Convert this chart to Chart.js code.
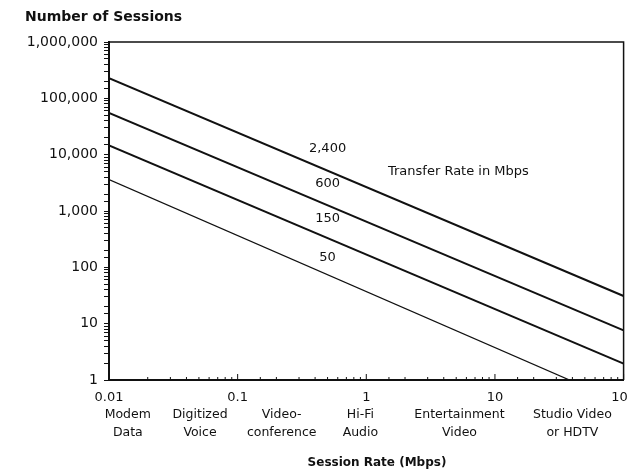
<!DOCTYPE html>
<html>
<head>
<meta charset="utf-8">
<script src="https://cdn.jsdelivr.net/npm/chart.js@4.4.1/dist/chart.umd.min.js"></script>
<style>
html, body { margin: 0; padding: 0; background: #fff; overflow: hidden; }
#wrap { width: 646px; height: 470px; position: relative; }
</style>
</head>
<body>
<div id="wrap"><canvas id="c"></canvas></div>
<script>
// lines of constant transfer rate: sessions = transfer rate / session rate
const sessionRates = [0.01, 100];
const sessions2400 = [229000, 31];
const sessions600 = [55000, 7.6];
const sessions150 = [14600, 1.95];
const rates50 = [0.01, 38];
const sessions50 = [3600, 1];

// applications under the x axis
const appNames = [['Modem', 'Data'], ['Digitized', 'Voice'], ['Video-', 'conference'], ['Hi-Fi', 'Audio'], ['Entertainment', 'Video'], ['Studio Video', 'or HDTV']];
const appRates = [0.014, 0.051, 0.22, 0.9, 5.3, 40];

// labels sitting next to the lines
const lineLabels = ['2,400', '600', '150', '50'];
const lineLabelRates = [0.5, 0.5, 0.5, 0.5];
const lineLabelSessions = [12900, 3100, 740, 150];

const xTickValues = [0.01, 0.1, 1, 10, 100];
const xTickLabels = ['0.01', '0.1', '1', '10', '100'];
const yTickValues = [1, 10, 100, 1000, 10000, 100000, 1000000];
const yTickLabels = ['1', '10', '100', '1,000', '10,000', '100,000', '1,000,000'];

const INK = '#111';
const FONT = '"DejaVu Sans", sans-serif';

function pts(xs, ys) {
    return xs.map((x, i) => ({ x: x, y: ys[i] }));
}
function isDecade(v) {
    const l = Math.log10(v);
    return Math.abs(l - Math.round(l)) < 1e-6;
}
function findLabel(values, labels, v) {
    for (let i = 0; i < values.length; i++) {
        if (Math.abs(values[i] - v) / values[i] < 1e-6) return labels[i];
    }
    return '';
}

const extras = {
    id: 'extras',
    afterDraw(chart) {
        const ctx = chart.ctx;
        const a = chart.chartArea;
        const xs = chart.scales.x;
        const ys = chart.scales.y;
        ctx.save();
        ctx.strokeStyle = INK;

        // top and right frame
        ctx.lineWidth = 1.5;
        ctx.beginPath();
        ctx.moveTo(a.left, a.top);
        ctx.lineTo(a.right, a.top);
        ctx.lineTo(a.right, a.bottom);
        ctx.stroke();

        // inward ticks on x axis
        ctx.lineWidth = 1;
        xs.ticks.forEach(t => {
            const px = xs.getPixelForValue(t.value);
            const len = isDecade(t.value) ? 6 : 3;
            ctx.beginPath();
            ctx.moveTo(px, a.bottom);
            ctx.lineTo(px, a.bottom - len);
            ctx.stroke();
        });

        ctx.fillStyle = INK;
        ctx.textAlign = 'center';
        ctx.textBaseline = 'middle';

        // line labels
        ctx.font = '13px ' + FONT;
        lineLabels.forEach((txt, i) => {
            ctx.fillText(txt, xs.getPixelForValue(lineLabelRates[i]), ys.getPixelForValue(lineLabelSessions[i]));
        });
        ctx.fillText('Transfer Rate in Mbps', xs.getPixelForValue(5.2), ys.getPixelForValue(5000));

        // application names
        ctx.font = '12.5px ' + FONT;
        appNames.forEach((lines, i) => {
            const px = xs.getPixelForValue(appRates[i]);
            lines.forEach((ln, j) => ctx.fillText(ln, px, a.bottom + 35 + j * 18));
        });

        // titles
        ctx.font = 'bold 14px ' + FONT;
        ctx.textAlign = 'left';
        ctx.fillText('Number of Sessions', 25, 17);
        ctx.font = 'bold 12px ' + FONT;
        ctx.textAlign = 'center';
        ctx.fillText('Session Rate (Mbps)', 377, 463);
        ctx.restore();
    }
};

const lineStyle = { borderColor: INK, pointRadius: 0, showLine: true, fill: false, tension: 0 };

new Chart(document.getElementById('c'), {
    type: 'scatter',
    data: {
        datasets: [
            Object.assign({ label: '2,400', data: pts(sessionRates, sessions2400), borderWidth: 2 }, lineStyle),
            Object.assign({ label: '600', data: pts(sessionRates, sessions600), borderWidth: 2 }, lineStyle),
            Object.assign({ label: '150', data: pts(sessionRates, sessions150), borderWidth: 2 }, lineStyle),
            Object.assign({ label: '50', data: pts(rates50, sessions50), borderWidth: 1.3 }, lineStyle)
        ]
    },
    options: {
        responsive: true,
        maintainAspectRatio: false,
        animation: false,
        layout: { padding: { top: 42, right: 0, left: 0, bottom: 0 } },
        plugins: { legend: { display: false }, tooltip: { enabled: false } },
        scales: {
            x: {
                type: 'logarithmic',
                min: 0.01,
                max: 100,
                afterFit(scale) { scale.height = 90; },
                grid: { display: true, drawOnChartArea: false, drawTicks: false },
                border: { color: INK, width: 2 },
                ticks: {
                    autoSkip: false,
                    maxRotation: 0,
                    padding: 10,
                    color: INK,
                    font: { family: FONT, size: 13 },
                    callback: v => isDecade(v) ? findLabel(xTickValues, xTickLabels, v) : ''
                }
            },
            y: {
                type: 'logarithmic',
                min: 1,
                max: 1000000,
                afterFit(scale) { scale.width = 109; },
                grid: { display: true, drawOnChartArea: false, drawTicks: true, tickLength: 5, color: INK },
                border: { color: INK, width: 2 },
                ticks: {
                    autoSkip: false,
                    padding: 6,
                    color: INK,
                    font: { family: FONT, size: 14 },
                    callback: v => isDecade(v) ? findLabel(yTickValues, yTickLabels, v) : ''
                }
            }
        }
    },
    plugins: [extras]
});
</script>
</body>
</html>
